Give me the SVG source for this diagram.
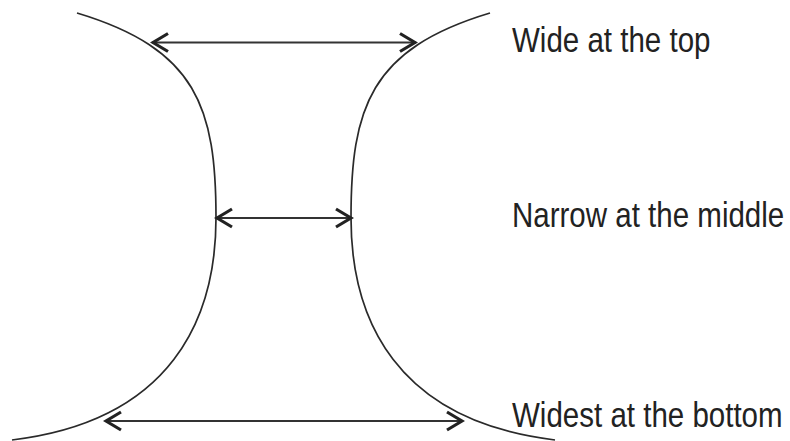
<svg xmlns="http://www.w3.org/2000/svg" width="790" height="441" viewBox="0 0 790 441">
  <style>
    .arc { fill: none; stroke: #2a2a2a; stroke-width: 1.7; }
    .arrow { fill: none; stroke: #333; stroke-width: 2.2; marker-start: url(#chev); marker-end: url(#chev); }
    .label { font-family: "Liberation Sans", Arial, sans-serif; font-size: 36px; fill: #222; }
  </style>
  <defs>
    <marker id="chev" viewBox="-22 -12 24 24" refX="0" refY="0" markerUnits="userSpaceOnUse" markerWidth="24" markerHeight="24" orient="auto-start-reverse">
      <path d="M-16,-9 L-1,0 L-16,9" fill="none" stroke="#222" stroke-width="3.2" stroke-linejoin="miter"/>
    </marker>
  </defs>
  <rect width="790" height="441" fill="#ffffff"/>
  <g id="left-curve">
    <path class="arc" d="M77,13 C197,49 216,108 216,218 C216,318 172,420.8 12,440"/>
  </g>
  <g id="right-curve">
    <path class="arc" d="M490,13 C370,49 351,108 351,218 C351,318 395,420.8 555,440"/>
  </g>
  <g id="connectors">
    <line class="arrow" x1="152" y1="42.5" x2="416" y2="42.5"/>
    <line class="arrow" x1="216" y1="218" x2="352" y2="218"/>
    <line class="arrow" x1="105" y1="421" x2="463" y2="421"/>
  </g>
  <g id="label-top">
    <text class="label" transform="translate(512,51.5) scale(0.82,1)">Wide at the top</text>
  </g>
  <g id="label-middle">
    <text class="label" transform="translate(512,226.7) scale(0.82,1)">Narrow at the middle</text>
  </g>
  <g id="label-bottom">
    <text class="label" transform="translate(512,427.3) scale(0.82,1)">Widest at the bottom</text>
  </g>
</svg>
